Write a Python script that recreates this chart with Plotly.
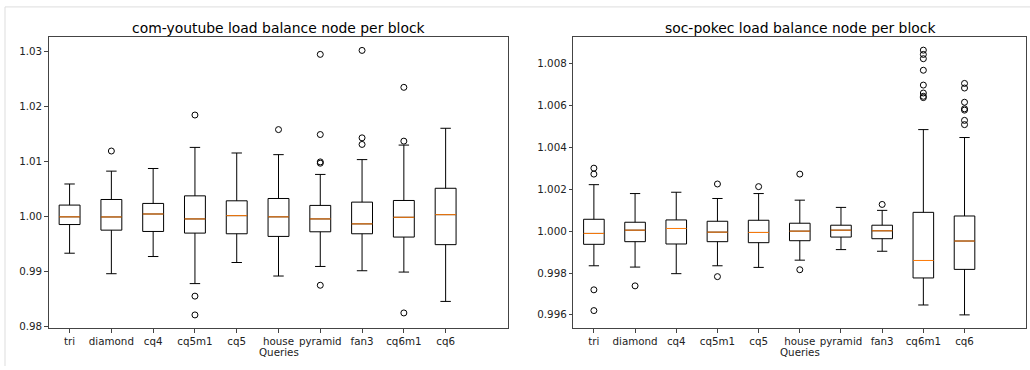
import plotly.graph_objects as go

categories = ["tri", "diamond", "cq4", "cq5m1", "cq5", "house", "pyramid", "fan3", "cq6m1", "cq6"]

# com-youtube
yt_lo = [0.99333, 0.98960, 0.99273, 0.98780, 0.99164, 0.98918, 0.99092, 0.99014, 0.98990, 0.98456]
yt_q1 = [0.99855, 0.99753, 0.99729, 0.99699, 0.99687, 0.99639, 0.99723, 0.99687, 0.99627, 0.99489]
yt_med = [0.99995, 0.99993, 1.00047, 0.99957, 1.00017, 0.99995, 0.99957, 0.99867, 0.99987, 1.00035]
yt_q3 = [1.00209, 1.00311, 1.00239, 1.00377, 1.00287, 1.00329, 1.00203, 1.00263, 1.00293, 1.00515]
yt_hi = [1.00593, 1.00827, 1.00875, 1.01259, 1.01157, 1.01127, 1.00767, 1.01037, 1.01301, 1.01607]
yt_out = [
    [],
    [1.01193],
    [],
    [1.01848, 0.98552, 0.98210],
    [],
    [1.01583],
    [1.02952, 1.01493, 1.00995, 1.00971, 0.98750],
    [1.03024, 1.01433, 1.01313],
    [1.02352, 1.01373, 0.98246],
    [],
]

# soc-pokec
pk_lo = [0.998346, 0.998283, 0.997969, 0.998346, 0.998268, 0.998614, 0.999118, 0.999039, 0.996472, 0.996000]
pk_q1 = [0.999370, 0.999496, 0.999386, 0.999496, 0.999449, 0.999543, 0.999717, 0.999638, 0.997764, 0.998173]
pk_med = [0.999890, 1.000047, 1.000126, 0.999953, 0.999937, 1.000000, 1.000047, 1.000016, 0.998598, 0.999528]
pk_q3 = [1.000567, 1.000425, 1.000535, 1.000472, 1.000520, 1.000378, 1.000283, 1.000283, 1.000898, 1.000724]
pk_hi = [1.002220, 1.001795, 1.001858, 1.001559, 1.001795, 1.001480, 1.001134, 1.000992, 1.004850, 1.004472]
pk_out = [
    [1.003008, 1.002724, 0.997197, 0.996205],
    [0.997386],
    [],
    [1.002252, 0.997827],
    [1.002126],
    [1.002724, 0.998157],
    [],
    [1.001276],
    [1.008646, 1.008441, 1.008236, 1.007685, 1.006976, 1.006598, 1.006441, 1.006378],
    [1.007055, 1.006835, 1.006157, 1.005843, 1.005780, 1.005291, 1.005087],
]

titles = ["com-youtube load balance node per block", "soc-pokec load balance node per block"]

positions = list(range(1, len(categories) + 1))
BOX_W = 0.5
FONT = "DejaVu Sans"

fig = go.Figure()


def add_panel(xa, ya, lo, q1, med, q3, hi, outs):
    fig.add_trace(go.Box(
        x=positions, q1=q1, median=med, q3=q3, lowerfence=lo, upperfence=hi,
        width=BOX_W, whiskerwidth=0.5, boxpoints=False,
        line=dict(color="black", width=1), fillcolor="rgba(0,0,0,0)",
        xaxis=xa, yaxis=ya, showlegend=False, hoverinfo="skip",
    ))
    mx, my = [], []
    for p, m in zip(positions, med):
        mx += [p - BOX_W / 2, p + BOX_W / 2, None]
        my += [m, m, None]
    fig.add_trace(go.Scatter(
        x=mx, y=my, mode="lines", line=dict(color="#ff7f0e", width=1),
        xaxis=xa, yaxis=ya, showlegend=False, hoverinfo="skip",
    ))
    ox, oy = [], []
    for p, vals in zip(positions, outs):
        for v in vals:
            ox.append(p)
            oy.append(v)
    fig.add_trace(go.Scatter(
        x=ox, y=oy, mode="markers",
        marker=dict(symbol="circle-open", size=6, color="black", line=dict(width=1)),
        xaxis=xa, yaxis=ya, showlegend=False, hoverinfo="skip",
    ))


add_panel("x", "y", yt_lo, yt_q1, yt_med, yt_q3, yt_hi, yt_out)
add_panel("x2", "y2", pk_lo, pk_q1, pk_med, pk_q3, pk_hi, pk_out)

W, H = 1030, 370
dom1 = [48.7 / W, 508.3 / W]
dom2 = [573.3 / W, 1026.3 / W]
ydom = [(H - 331.7) / H, (H - 37.3) / H]

axis_common = dict(
    showgrid=False, zeroline=False, showline=True, mirror=True,
    linecolor="#444", linewidth=1, ticks="outside", ticklen=3.5, tickcolor="#444",
    tickfont=dict(family=FONT, size=10.3, color="#222"),
)

fig.update_layout(
    width=W, height=H, margin=dict(l=0, r=0, t=0, b=0),
    paper_bgcolor="white", plot_bgcolor="white",
    xaxis=dict(domain=dom1, range=[0.5, 11.5], tickvals=positions, ticktext=categories,
               anchor="y", **axis_common),
    yaxis=dict(domain=ydom, range=[0.9797, 1.0327], tickformat=".2f", dtick=0.01, tick0=0.98,
               anchor="x", **axis_common),
    xaxis2=dict(domain=dom2, range=[0.5, 11.5], tickvals=positions, ticktext=categories,
                anchor="y2", **axis_common),
    yaxis2=dict(domain=ydom, range=[0.995368, 1.009278], tickformat=".3f", dtick=0.002, tick0=0.996,
                anchor="x2", **axis_common),
)

annotations = []
for dom, t in zip([dom1, dom2], titles):
    cx = (dom[0] + dom[1]) / 2
    annotations.append(dict(text=t, x=cx, y=(H - 28.3) / H, xref="paper", yref="paper",
                            xanchor="center", yanchor="middle", showarrow=False,
                            font=dict(family=FONT, size=13.9, color="black")))
    annotations.append(dict(text="Queries", x=cx, y=(H - 349) / H, xref="paper", yref="paper",
                            xanchor="center", yanchor="top", showarrow=False, borderpad=0,
                            font=dict(family=FONT, size=10.3, color="#222")))
fig.update_layout(annotations=annotations)

# outer light frame of the picture
fig.add_shape(type="line", xref="paper", yref="paper", x0=5 / W, x1=1, y0=(H - 7) / H, y1=(H - 7) / H,
              line=dict(color="#dddddd", width=1))
fig.add_shape(type="line", xref="paper", yref="paper", x0=5 / W, x1=5 / W, y0=0, y1=(H - 7) / H,
              line=dict(color="#dddddd", width=1))

fig.write_html("out.html")
